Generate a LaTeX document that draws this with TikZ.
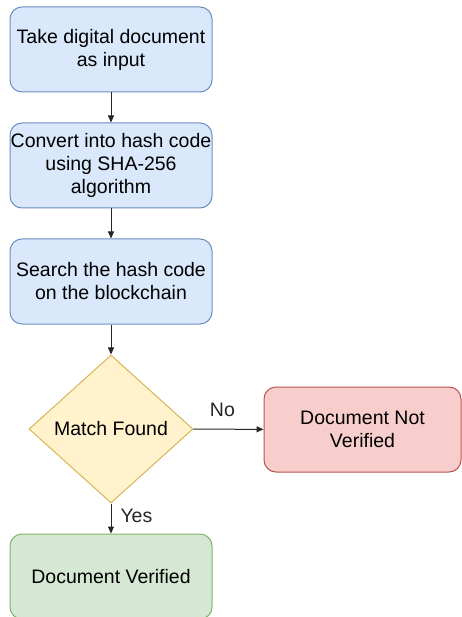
\documentclass[tikz,border=0pt]{standalone}
\usepackage{fontspec}
\setmainfont{Liberation Sans}
\usetikzlibrary{arrows.meta,shapes.geometric}
\definecolor{bfill}{HTML}{DAE8FC}\definecolor{bline}{HTML}{6C8EBF}
\definecolor{yfill}{HTML}{FFF2CC}\definecolor{yline}{HTML}{D6B656}
\definecolor{rfill}{HTML}{F8CECC}\definecolor{rline}{HTML}{B85450}
\definecolor{gfill}{HTML}{D5E8D4}\definecolor{gline}{HTML}{82B366}
\tikzset{
  boxbase/.style={rectangle, rounded corners=12pt, line width=1pt, inner sep=0pt,
    align=center, font=\fontsize{19.5pt}{23pt}\selectfont},
  bluebox/.style={boxbase, fill=bfill, draw=bline, minimum width=202pt, minimum height=85pt},
  redbox/.style={boxbase, fill=rfill, draw=rline, minimum width=197pt, minimum height=85pt},
  greenbox/.style={boxbase, fill=gfill, draw=gline, minimum width=202pt, minimum height=85pt},
  decision/.style={diamond, fill=yfill, draw=yline, line width=1pt, inner sep=0pt,
    minimum width=164pt, minimum height=148pt, aspect=1.108, align=center,
    font=\fontsize{19.5pt}{23pt}\selectfont},
  conn/.style={-{Triangle[length=7pt,width=6pt]}, line width=1pt, black!85},
  lbl/.style={font=\fontsize{19.5pt}{23pt}\selectfont, inner sep=0pt}
}
\begin{document}
\begin{tikzpicture}[x=1pt,y=-1pt]
\useasboundingbox (0,0) rectangle (462,617);
\clip (0,0) rectangle (462,617);
\node[bluebox] (b1) at (111,49.5) {Take digital document\\as input};
\node[bluebox] (b2) at (111,165.5) {Convert into hash code\\using SHA-256\\algorithm};
\node[bluebox] (b3) at (111,281.5) {Search the hash code\\on the blockchain};
\node[decision] (d) at (111,429) {Match Found};
\node[redbox] (r) at (362.5,429.5) {Document Not\\Verified};
\node[greenbox] (g) at (111,576.5) {Document Verified};
\draw[conn] (b1) -- (b2);
\draw[conn] (b2) -- (b3);
\draw[conn] (b3) -- (d);
\draw[conn] (d) -- node[lbl, above=12pt, xshift=-6pt] (no) {No} (r);
\draw[conn] (d) -- node[lbl, right=9pt, yshift=3pt] (yes) {Yes} (g);
\end{tikzpicture}
\end{document}
